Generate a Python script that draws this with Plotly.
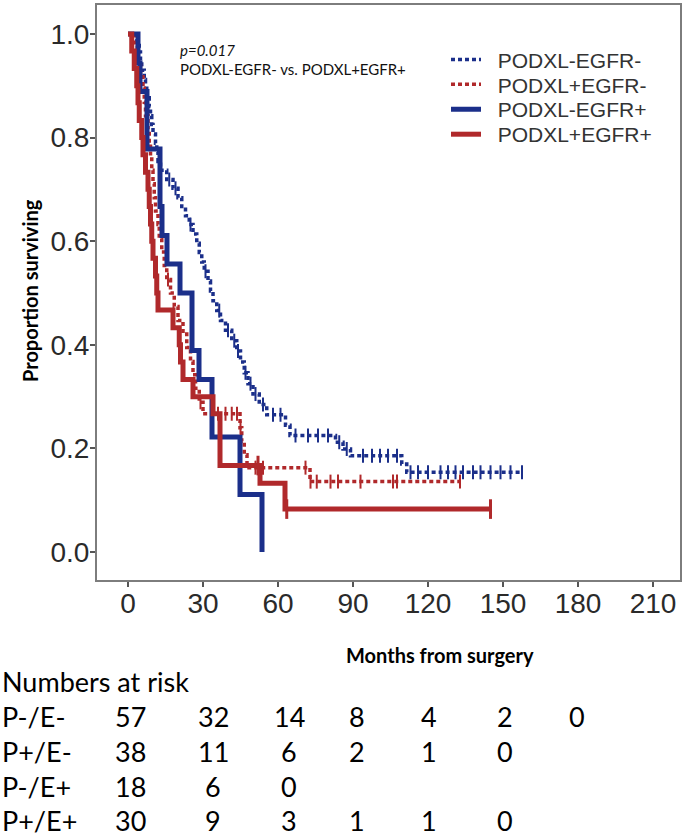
import plotly.graph_objects as go

# ---------------- data ----------------
series_names = ["PODXL-EGFR-", "PODXL+EGFR-", "PODXL-EGFR+", "PODXL+EGFR+"]

# PODXL-EGFR- (step times in months, survival after each step; last = end of follow-up)
pe_nn_t = [0, 3.5, 4.5, 5.0, 5.5, 6.5, 7.0, 7.5, 8.5, 9.0, 9.5, 10.0, 11.0, 11.5, 12.0, 13.0,
           15.5, 18.0, 20.0, 21.5, 23.0, 24.5, 26.0, 27.5, 28.5, 29.5, 30.5, 32.0, 33.0, 34.0,
           35.5, 37.0, 39.0, 41.5, 43.5, 45.0, 46.5, 48.0, 50.0, 52.5, 55.5, 63.0, 64.8, 83.0,
           86.0, 89.0, 109.5, 111.5, 157.6]
pe_nn_s = [1.0, 0.982, 0.965, 0.947, 0.930, 0.912, 0.895, 0.877, 0.860, 0.842, 0.825, 0.807,
           0.789, 0.772, 0.754, 0.737, 0.719, 0.702, 0.684, 0.667, 0.649, 0.632, 0.614, 0.596,
           0.578, 0.560, 0.542, 0.523, 0.504, 0.485, 0.466, 0.447, 0.428, 0.408, 0.388, 0.367,
           0.346, 0.325, 0.305, 0.285, 0.265, 0.245, 0.225, 0.212, 0.199, 0.186, 0.170, 0.154,
           0.154]
pe_nn_cens = [16.5, 19, 25, 31, 36.5, 40, 42.5, 44, 47, 49, 51, 54, 58, 61, 67, 72, 76, 80,
              84.5, 87.5, 94, 97.6, 100.8, 104, 107.6, 113, 116, 120, 125, 128, 131, 134, 138,
              141, 145, 149, 153, 157.6]

# PODXL+EGFR-
pe_pn_t = [0, 3.0, 4.0, 5.0, 6.0, 6.5, 7.0, 8.0, 8.5, 9.0, 9.5, 10.0, 10.5, 11.0, 12.0, 12.5,
           13.5, 14.5, 15.5, 17.0, 18.5, 20.0, 22.0, 23.5, 25.0, 26.0, 27.0, 28.5, 30.0, 44.8,
           45.5, 46.5, 47.6, 72.8, 132.8]
pe_pn_s = [1.0, 0.974, 0.947, 0.921, 0.895, 0.868, 0.842, 0.816, 0.789, 0.763, 0.737, 0.711,
           0.684, 0.658, 0.632, 0.605, 0.579, 0.553, 0.526, 0.5, 0.474, 0.447, 0.421, 0.395,
           0.368, 0.342, 0.316, 0.289, 0.267, 0.240, 0.214, 0.188, 0.163, 0.136, 0.136]
pe_pn_cens = [16, 29, 36, 39, 41.5, 43.6, 45, 51, 54, 71, 73, 75.5, 81, 84, 93, 106, 107.6, 132.8]

# PODXL-EGFR+
pe_np_t = [0, 4.0, 4.8, 7.6, 12.8, 13.6, 15.6, 20.8, 25.6, 28.4, 33.6, 44.8, 53.6]
pe_np_s = [1.0, 0.944, 0.889, 0.778, 0.667, 0.611, 0.556, 0.5, 0.389, 0.333, 0.222, 0.111, 0.0]
pe_np_cens = []

# PODXL+EGFR+
pe_pp_t = [0, 1.5, 2.5, 3.5, 4.0, 4.5, 5.5, 6.0, 7.0, 8.0, 8.5, 9.0, 9.5, 10.0, 11.0, 11.5,
           12.0, 18.0, 20.5, 21.0, 22.0, 26.0, 34.0, 36.8, 52.8, 62.8, 145.0]
pe_pp_s = [1.0, 0.967, 0.933, 0.9, 0.867, 0.833, 0.8, 0.767, 0.733, 0.7, 0.667, 0.633, 0.6,
           0.567, 0.533, 0.5, 0.467, 0.433, 0.4, 0.367, 0.333, 0.3, 0.267, 0.167, 0.133, 0.083,
           0.083]
pe_pp_cens = [52.0, 63.5, 145.0]

x_ticks = [0, 30, 60, 90, 120, 150, 180, 210]
y_ticks = [0.0, 0.2, 0.4, 0.6, 0.8, 1.0]
y_tick_labels = ["0.0", "0.2", "0.4", "0.6", "0.8", "1.0"]

risk_groups = ["P-/E-", "P+/E-", "P-/E+", "P+/E+"]
risk_values = [
    [57, 32, 14, 8, 4, 2, 0],
    [38, 11, 6, 2, 1, 0],
    [18, 6, 0],
    [30, 9, 3, 1, 1, 0],
]

p_text = "p=0.017"
cmp_text = "PODXL-EGFR- vs. PODXL+EGFR+"

# ---------------- style ----------------
BLUE = "#1b2f8a"
RED = "#b0292b"
W, H = 685, 840
PL, PR, PT, PB = 97, 680, 3, 580   # plot area in px


def step_at(ts, ss, t):
    v = ss[0]
    for ti, si in zip(ts, ss):
        if ti <= t:
            v = si
    return v


def pxx(x):
    return (x - PL) / (PR - PL)


def pxy(y):
    return (PB - y) / (PB - PT)


fig = go.Figure()

groups = [
    (pe_nn_t, pe_nn_s, pe_nn_cens, BLUE, "dot"),
    (pe_pn_t, pe_pn_s, pe_pn_cens, RED, "dot"),
    (pe_np_t, pe_np_s, pe_np_cens, BLUE, "solid"),
    (pe_pp_t, pe_pp_s, pe_pp_cens, RED, "solid"),
]
legend_ids = ["legend", "legend2", "legend3", "legend4"]
legend_rows = [58, 83, 108, 133]

for name, lid, (ts, ss, cens, col, dash) in zip(series_names, legend_ids, groups):
    if dash == "dot":
        line = dict(color=col, width=3.5, dash="4px,3px", shape="hv")
    else:
        line = dict(color=col, width=5, shape="hv")
    fig.add_trace(go.Scatter(x=ts, y=ss, mode="lines", name="\u00a0\u00a0" + name,
                             line=line, hoverinfo="skip", legend=lid))

for name, (ts, ss, cens, col, dash) in zip(series_names, groups):
    if cens:
        fig.add_trace(go.Scatter(
            x=cens, y=[step_at(ts, ss, c) for c in cens], mode="markers",
            showlegend=False, hoverinfo="skip",
            marker=dict(symbol="line-ns", size=10 if dash == "dot" else 14,
                        line=dict(color=col, width=2 if dash == "dot" else 3))))

x0 = (PL - 128) / 2.5
x1 = (PR - 128) / 2.5
y0 = (552 - PB) / 520
y1 = (552 - PT) / 520

axis_common = dict(showline=True, linecolor="#7d7d7d", linewidth=2, mirror=True,
                   ticks="outside", ticklen=5, tickwidth=2, tickcolor="#555555",
                   showgrid=False, zeroline=False,
                   tickfont=dict(family="Liberation Sans, Arial", size=28, color="#2a2a2a"))

legend_style = dict(xanchor="left", yanchor="middle", bgcolor="rgba(0,0,0,0)",
                    borderwidth=0, itemwidth=30,
                    font=dict(family="Liberation Sans, Arial", size=21, color="#333333"))

layout_legends = {}
for lid, ry in zip(legend_ids, legend_rows):
    layout_legends[lid] = dict(x=pxx(446), y=pxy(ry), **legend_style)

fig.update_layout(
    width=W, height=H,
    margin=dict(l=PL, r=W - PR, t=PT, b=H - PB),
    paper_bgcolor="white", plot_bgcolor="white",
    xaxis=dict(range=[x0, x1], tickvals=x_ticks, ticklabelstandoff=-8, **axis_common),
    yaxis=dict(range=[y0, y1], tickvals=y_ticks, ticktext=y_tick_labels,
               ticklabelstandoff=-5, **axis_common),
    showlegend=True,
    **layout_legends,
)

ann = []
ann.append(dict(text="<i>" + p_text + "</i>", x=pxx(178), y=pxy(48), xref="paper",
                yref="paper", xanchor="left", yanchor="middle", showarrow=False,
                font=dict(family="Lato", size=15, color="#111111")))
ann.append(dict(text=cmp_text, x=pxx(178), y=pxy(67), xref="paper", yref="paper",
                xanchor="left", yanchor="middle", showarrow=False,
                font=dict(family="Lato", size=15, color="#111111")))
ann.append(dict(text="<b>Proportion surviving</b>", x=pxx(30), y=pxy(290), xref="paper",
                yref="paper", xanchor="center", yanchor="middle", textangle=-90,
                showarrow=False, font=dict(family="Lato", size=20, color="#000000")))
ann.append(dict(text="<b>Months from surgery</b>", x=pxx(440), y=pxy(655), xref="paper",
                yref="paper", xanchor="center", yanchor="middle", showarrow=False,
                font=dict(family="Lato", size=20, color="#000000")))
ann.append(dict(text="Numbers at risk", x=pxx(0), y=pxy(682), xref="paper", yref="paper",
                xanchor="left", yanchor="middle", showarrow=False,
                font=dict(family="Lato", size=27, color="#000000")))

col_px = [130, 213, 289, 357, 429, 505, 577]
row_py = [717, 752, 787, 821]
for g, vals, ry in zip(risk_groups, risk_values, row_py):
    ann.append(dict(text=g, x=pxx(0), y=pxy(ry), xref="paper", yref="paper",
                    xanchor="left", yanchor="middle", showarrow=False,
                    font=dict(family="Lato", size=27, color="#000000")))
    for v, cx in zip(vals, col_px):
        ann.append(dict(text=str(v), x=pxx(cx), y=pxy(ry), xref="paper", yref="paper",
                        xanchor="center", yanchor="middle", showarrow=False,
                        font=dict(family="Lato", size=27, color="#000000")))

fig.update_layout(annotations=ann)
fig.write_html("out.html", config={"displayModeBar": False},
               post_script="document.body.style.margin='0px';"
                           "document.body.style.overflow='hidden';")
